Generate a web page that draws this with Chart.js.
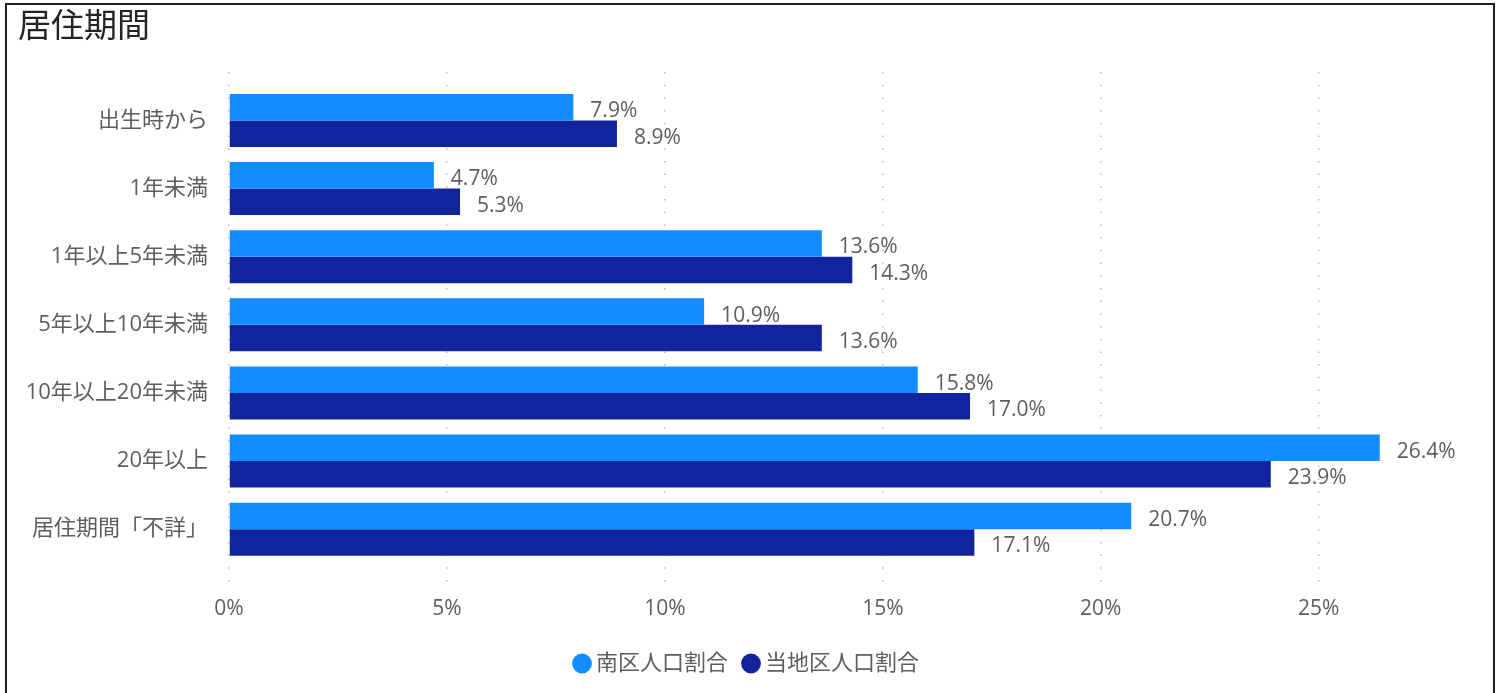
<!DOCTYPE html>
<html>
<head>
<meta charset="utf-8">
<script src="https://cdn.jsdelivr.net/npm/chart.js@4"></script>
<style>
  html, body { margin: 0; padding: 0; background: #fff; overflow: hidden; }
  #frame { position: absolute; left: 5px; top: 3px; width: 1486px; height: 700px; border: 2px solid #1e1e1e; border-bottom: none; background: #fff; }
  #wrap { position: absolute; left: 0; top: 0; width: 1486px; height: 688px; }
</style>
</head>
<body>
<div id="frame"><div id="wrap"><canvas id="c"></canvas></div></div>
<script>
const title = "居住期間";
const categories = ["出生時から", "1年未満", "1年以上5年未満", "5年以上10年未満", "10年以上20年未満", "20年以上", "居住期間「不詳」"];
const seriesNames = ["南区人口割合", "当地区人口割合"];
const minamiValues = [7.9, 4.7, 13.6, 10.9, 15.8, 26.4, 20.7];
const chikuValues = [8.9, 5.3, 14.3, 13.6, 17.0, 23.9, 17.1];
const seriesColors = ["#118DFF", "#12239E"];
const xTicks = [0, 5, 10, 15, 20, 25];

const FONT = "'Segoe UI', 'Open Sans', 'Noto Sans CJK JP', sans-serif";
const TEXT = "#605E5C";
Chart.defaults.font.family = FONT;
Chart.defaults.color = TEXT;

const labelPlugin = {
  id: 'barLabels',
  afterDatasetsDraw(chart) {
    const ctx = chart.ctx;
    ctx.save();
    ctx.font = "21px " + FONT;
    ctx.fillStyle = TEXT;
    ctx.textAlign = 'left';
    ctx.textBaseline = 'middle';
    chart.data.datasets.forEach((ds, di) => {
      const meta = chart.getDatasetMeta(di);
      meta.data.forEach((bar, i) => {
        const v = ds.data[i].x;
        ctx.fillText(v.toFixed(1) + '%', bar.x + 17, bar.y + 4);
      });
    });
    ctx.restore();
  }
};

new Chart(document.getElementById('c'), {
  type: 'bar',
  data: {
    datasets: [
      { label: seriesNames[0], data: minamiValues.map((v, i) => ({ x: v, y: i })), backgroundColor: seriesColors[0], borderWidth: 0 },
      { label: seriesNames[1], data: chikuValues.map((v, i) => ({ x: v, y: i })), backgroundColor: seriesColors[1], borderWidth: 0 }
    ]
  },
  options: {
    indexAxis: 'y',
    responsive: true,
    maintainAspectRatio: false,
    animation: false,
    categoryPercentage: 0.778,
    barPercentage: 1.0,
    layout: { padding: { left: 11, right: 13, top: 0, bottom: 8.5 } },
    scales: {
      x: {
        type: 'linear',
        min: 0,
        max: 28.7,
        afterBuildTicks: (s) => { s.ticks = xTicks.map(v => ({ value: v })); },
        afterFit: (s) => { s.height = 49.5; },
        ticks: { callback: (v) => v + '%', font: { size: 21 }, color: TEXT, padding: 13 },
        grid: { color: '#BDBBB9', lineWidth: 1.5, drawTicks: false },
        border: { display: false, dash: [1.5, 11.2] }
      },
      y: {
        type: 'linear',
        reverse: true,
        offset: false,
        min: -0.712,
        max: 6.79,
        afterBuildTicks: (s) => { s.ticks = categories.map((c, i) => ({ value: i })); },
        afterFit: (s) => { s.width = 211; },
        ticks: { callback: (v) => categories[v], font: { size: 22 }, color: TEXT, padding: 21 },
        grid: { display: false, drawTicks: false },
        border: { display: false }
      }
    },
    plugins: {
      title: {
        display: true,
        text: title,
        align: 'start',
        color: '#252423',
        font: { size: 33, weight: 'normal' },
        padding: { top: 3, bottom: 24.4 }
      },
      legend: {
        display: true,
        position: 'bottom',
        labels: {
          usePointStyle: true,
          pointStyle: 'circle',
          boxWidth: 6,
          boxHeight: 14,
          padding: 20,
          color: TEXT,
          font: { size: 22 }
        }
      },
      tooltip: { enabled: false }
    }
  },
  plugins: [labelPlugin]
});
</script>
</body>
</html>
